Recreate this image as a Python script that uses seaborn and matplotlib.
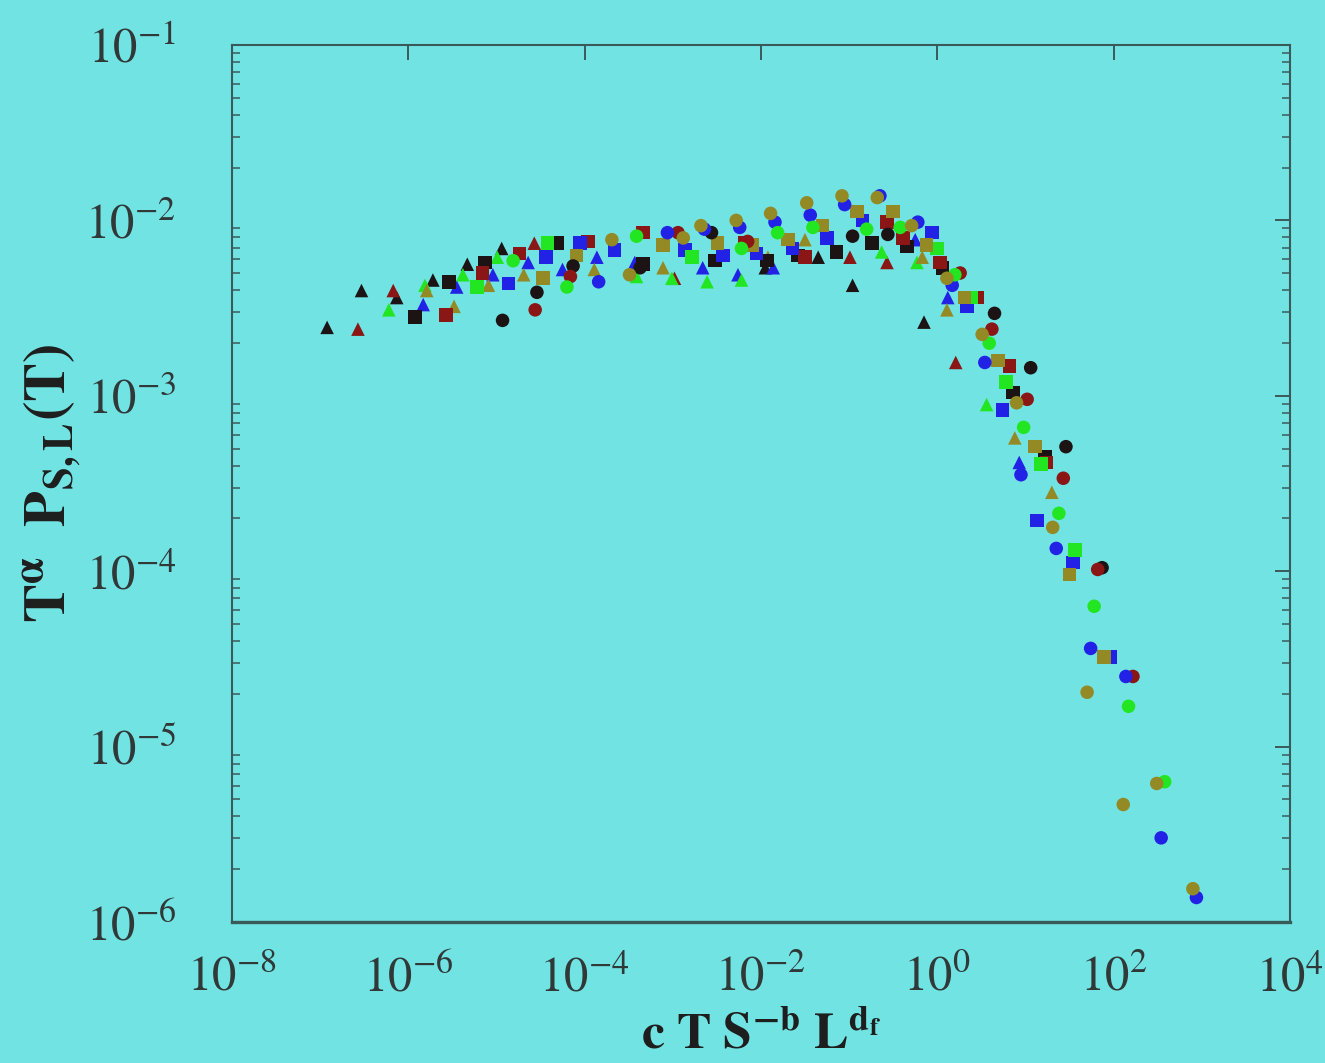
import numpy as np
import pandas as pd
import matplotlib
matplotlib.use("Agg")
import matplotlib.pyplot as plt
import seaborn as sns
from matplotlib.ticker import LogLocator, NullFormatter, FixedLocator

# ---- data: log10 of (c T S^-b L^df) and log10 of (T^alpha P_S,L(T)) ----
# black triangles
K_TRI_LX = [-6.92, -6.53, -6.13, -5.72, -5.33, -4.94, -1.95, -1.35, -0.96, -0.15]
K_TRI_LY = [-2.61, -2.40, -2.44, -2.34, -2.25, -2.16, -2.27, -2.21, -2.37, -2.58]
# dark red triangles
R_TRI_LX = [-6.57, -6.17, -4.57, -2.98, -0.99, -0.57, 0.21]
R_TRI_LY = [-2.62, -2.40, -2.13, -2.33, -2.21, -2.24, -2.81]
# blue triangles
B_TRI_LX = [-5.83, -5.45, -5.04, -4.64, -4.25, -3.86, -3.43, -2.66, -2.26, -1.86, -0.25, 0.12, 0.93]
B_TRI_LY = [-2.48, -2.38, -2.31, -2.24, -2.28, -2.21, -2.24, -2.27, -2.31, -2.27, -2.11, -2.44, -3.38]
# green triangles
G_TRI_LX = [-6.22, -5.81, -5.38, -4.99, -3.41, -3.01, -2.61, -2.22, -0.63, -0.23, 0.56]
G_TRI_LY = [-2.51, -2.37, -2.31, -2.21, -2.32, -2.33, -2.35, -2.34, -2.18, -2.24, -3.05]
# olive triangles
O_TRI_LX = [-5.79, -5.48, -5.09, -4.69, -3.89, -3.11, -1.92, -1.50, -0.17, 0.11, 0.88, 1.30]
O_TRI_LY = [-2.40, -2.49, -2.37, -2.31, -2.28, -2.27, -2.21, -2.11, -2.21, -2.51, -3.24, -3.55]

# black squares
K_SQ_LX = [-5.92, -5.54, -5.13, -4.31, -3.34, -2.52, -1.93, -1.58, -1.14, -0.74, -0.34, 0.06, 0.86, 1.22]
K_SQ_LY = [-2.55, -2.35, -2.24, -2.13, -2.25, -2.23, -2.23, -2.20, -2.18, -2.13, -2.15, -2.27, -2.98, -3.35]
# dark red squares
R_SQ_LX = [-5.57, -5.16, -4.74, -3.96, -3.34, -2.18, -1.50, -0.57, -0.39, 0.03, 0.45, 0.82, 1.24]
R_SQ_LY = [-2.54, -2.30, -2.19, -2.12, -2.07, -2.13, -2.21, -2.01, -2.10, -2.24, -2.44, -2.83, -3.38]
# blue squares
B_SQ_LX = [-4.86, -4.44, -4.05, -3.66, -2.86, -2.43, -2.05, -1.64, -1.25, -0.85, -0.06, 0.34, 0.74, 1.13, 1.54, 1.96]
B_SQ_LY = [-2.36, -2.21, -2.13, -2.17, -2.17, -2.20, -2.19, -2.16, -2.10, -2.00, -2.07, -2.49, -3.08, -3.71, -3.95, -4.49]
# green squares
G_SQ_LX = [-5.22, -4.42, -2.78, 0.00, 0.39, 0.78, 1.18, 1.56]
G_SQ_LY = [-2.38, -2.13, -2.21, -2.16, -2.44, -2.92, -3.39, -3.88]
# olive squares
O_SQ_LX = [-4.47, -4.09, -3.11, -2.49, -2.10, -1.69, -1.30, -0.91, -0.50, -0.12, 0.31, 0.69, 1.11, 1.50, 1.89]
O_SQ_LY = [-2.33, -2.20, -2.14, -2.13, -2.14, -2.11, -2.03, -1.95, -1.95, -2.14, -2.44, -2.80, -3.29, -4.02, -4.49]

# black circles
K_CI_LX = [-4.93, -4.54, -4.13, -3.37, -2.56, -0.96, -0.56, 0.65, 1.06, 1.46, 1.87]
K_CI_LY = [-2.57, -2.41, -2.26, -2.27, -2.07, -2.09, -2.08, -2.53, -2.84, -3.29, -3.98]
# dark red circles
R_CI_LX = [-4.56, -4.16, -2.94, -2.15, 0.26, 0.62, 1.02, 1.43, 1.82, 2.22]
R_CI_LY = [-2.51, -2.32, -2.07, -2.12, -2.30, -2.62, -3.02, -3.47, -3.99, -4.60]
# blue circles
B_CI_LX = [-3.84, -3.06, -2.64, -2.24, -1.84, -1.44, -1.05, -0.65, -0.22, 0.17, 0.54, 0.95,
           1.35, 1.74, 2.14, 2.54, 2.94]
B_CI_LY = [-2.35, -2.07, -2.05, -2.04, -2.01, -1.97, -1.91, -1.86, -2.01, -2.37, -2.81, -3.45,
           -3.87, -4.44, -4.60, -5.52, -5.86]
# green circles
G_CI_LX = [-4.81, -4.20, -3.41, -2.22, -1.81, -1.41, -0.80, -0.42, 0.20, 0.59, 0.98, 1.38,
           1.78, 2.17, 2.58]
G_CI_LY = [-2.23, -2.38, -2.09, -2.16, -2.07, -2.04, -2.05, -2.04, -2.31, -2.70, -3.18, -3.67,
           -4.20, -4.77, -5.20]
# olive circles
O_CI_LX = [-3.69, -3.49, -2.88, -2.68, -2.28, -1.89, -1.48, -1.08, -0.68, -0.29, 0.11, 0.51,
           0.90, 1.31, 1.70, 2.11, 2.49, 2.90]
O_CI_LY = [-2.11, -2.31, -2.10, -2.03, -2.00, -1.96, -1.90, -1.86, -1.87, -2.03, -2.33, -2.65,
           -3.04, -3.75, -4.69, -5.33, -5.21, -5.81]

X_TICKS_EXP = [-8, -6, -4, -2, 0, 2, 4]
Y_TICKS_EXP = [-6, -5, -4, -3, -2, -1]

COLORS = {"k": "#1c1414", "r": "#8a1616", "b": "#2222e6", "g": "#22e622", "o": "#938a26"}
MARKERS = {"tri": "^", "sq": "s", "ci": "o"}

series = [
    ("k", "tri", K_TRI_LX, K_TRI_LY), ("r", "tri", R_TRI_LX, R_TRI_LY),
    ("b", "tri", B_TRI_LX, B_TRI_LY), ("g", "tri", G_TRI_LX, G_TRI_LY),
    ("o", "tri", O_TRI_LX, O_TRI_LY),
    ("k", "sq", K_SQ_LX, K_SQ_LY), ("r", "sq", R_SQ_LX, R_SQ_LY),
    ("b", "sq", B_SQ_LX, B_SQ_LY), ("g", "sq", G_SQ_LX, G_SQ_LY),
    ("o", "sq", O_SQ_LX, O_SQ_LY),
    ("k", "ci", K_CI_LX, K_CI_LY), ("r", "ci", R_CI_LX, R_CI_LY),
    ("b", "ci", B_CI_LX, B_CI_LY), ("g", "ci", G_CI_LX, G_CI_LY),
    ("o", "ci", O_CI_LX, O_CI_LY),
]

rows = []
for c, m, lx, ly in series:
    for a, b in zip(lx, ly):
        rows.append({"x": 10.0 ** a, "y": 10.0 ** b, "color": c, "shape": m})
df = pd.DataFrame(rows)

BG = "#72e3e3"
sns.set_theme(style="white")
plt.rcParams["font.family"] = ["Liberation Serif", "DejaVu Serif"]
plt.rcParams["mathtext.fontset"] = "stix"

fig = plt.figure(figsize=(13.25, 10.63), dpi=100, facecolor=BG)
ax = fig.add_axes([0.175, 0.1326, 0.7985, 0.8251])
ax.set_facecolor(BG)

sns.scatterplot(data=df, x="x", y="y", hue="color", style="shape",
                palette=COLORS, markers=MARKERS, s=95, linewidth=0,
                legend=False, ax=ax, zorder=3)

ax.set_xscale("log")
ax.set_yscale("log")
ax.set_xlim(1e-8, 1e4)
ax.set_ylim(1e-6, 1e-1)

ax.xaxis.set_major_locator(FixedLocator([10.0 ** e for e in X_TICKS_EXP]))
ax.xaxis.set_minor_locator(FixedLocator([]))
ax.set_xticklabels([r"$10^{%d}$" % e for e in X_TICKS_EXP])
ax.yaxis.set_major_locator(FixedLocator([10.0 ** e for e in Y_TICKS_EXP]))
ax.yaxis.set_minor_locator(LogLocator(base=10, subs=np.arange(2, 10), numticks=20))
ax.yaxis.set_minor_formatter(NullFormatter())
ax.set_yticklabels([r"$10^{%d}$" % e for e in Y_TICKS_EXP])

frame_col = "#3a5a5a"
for sp in ax.spines.values():
    sp.set_color(frame_col)
    sp.set_linewidth(1.5)
ax.spines["bottom"].set_linewidth(2.4)

ax.tick_params(axis="both", which="major", direction="in", length=11, width=1.4,
               color=frame_col, top=True, right=True, labelsize=35, labelcolor="#303838")
ax.tick_params(axis="y", which="minor", direction="in", length=6, width=1.1,
               color=frame_col, left=True, right=True)
ax.tick_params(axis="y", which="major", pad=40)
ax.tick_params(axis="x", which="major", pad=24)

ax.set_xlabel(r"$\mathbf{c\ T\ S^{-b}\ L^{d_f}}$", fontsize=37, color="#1e1e1e", labelpad=8)
ax.set_ylabel(r"$\mathbf{T^{\alpha}\ \ P_{S,L}(T)}$", fontsize=42, color="#1e1e1e", labelpad=2)

fig.savefig("out.png", dpi=100, facecolor=BG)
